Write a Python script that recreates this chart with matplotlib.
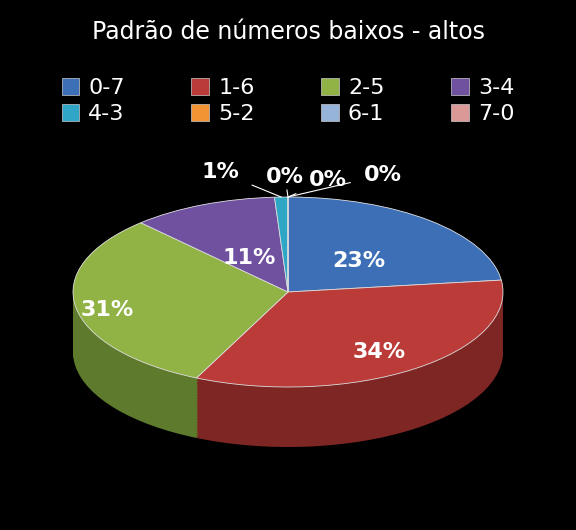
import matplotlib
matplotlib.use("Agg")
import matplotlib.pyplot as plt
from matplotlib.patches import Patch
import numpy as np

categories = ["0-7", "1-6", "2-5", "3-4", "4-3", "5-2", "6-1", "7-0"]
values = [23, 34, 31, 11, 1, 0, 0, 0]
colors = ["#3D6FB6", "#BA3B38", "#91B346", "#6F51A0", "#2FA6C6", "#F39434", "#96B4DA", "#DA9896"]
side_colors = ["#27497A", "#7E2624", "#5E7A2C", "#49346B", "#1E7088", "#A8631F", "#64799A", "#946664"]
title = "Padrão de números baixos - altos"

W, H = 576, 530
rx, ry = 215, 95
cx, cy = 288, 292
depth = 60

fig = plt.figure(figsize=(5.76, 5.30), dpi=100, facecolor="black")
ax = fig.add_axes([0, 0, 1, 1])
ax.set_facecolor("black")

def c(px, py):
    return (px / rx, (H - py) / ry)

N = 40
for i in range(N + 1):
    off = depth * (1 - i / N)
    ax.pie(values, colors=side_colors, startangle=90, counterclock=False,
           center=c(cx, cy + off), radius=1, normalize=True,
           wedgeprops=dict(linewidth=0), frame=True)
wedges, texts = ax.pie(values, colors=colors, startangle=90, counterclock=False,
                       center=c(cx, cy), radius=1, normalize=True,
                       wedgeprops=dict(linewidth=0.6, edgecolor="#dddddd"), frame=True)
ax.set_aspect("auto")
ax.set_xlim(0, W / rx)
ax.set_ylim(0, H / ry)
ax.axis("off")

total = sum(values)
cum = 0
small_pos = [(220, 172), (285, 177), (328, 180), (383, 175)]
big_dist = [0.5, 0.72, 0.85, 0.45]
k = 0
b = 0
for v in values:
    mid = 90 - 360 * (cum + v / 2) / total
    cum += v
    a = np.deg2rad(mid)
    if v >= 5:
        d = big_dist[b]; b += 1
        px = cx + d * rx * np.cos(a)
        py = cy - d * ry * np.sin(a) + 5
        ax.text(*c(px, py), f"{v}%", color="white", fontsize=16, fontweight="bold",
                ha="center", va="center")
    else:
        ex = cx + rx * np.cos(a)
        ey = cy - ry * np.sin(a)
        tx, ty = small_pos[k]
        k += 1
        ax.annotate(f"{v}%", xy=c(ex, ey), xytext=c(tx, ty), color="white",
                    fontsize=16, fontweight="bold", ha="center", va="center",
                    arrowprops=dict(arrowstyle="-", color="white", lw=0.8,
                                    shrinkA=8, shrinkB=0))

fig.text(0.5, 1 - 32 / H, title, color="white", fontsize=17, ha="center", va="center")
handles = [Patch(facecolor=col, edgecolor="#cccccc", linewidth=0.5) for col in colors]
order = [0, 4, 1, 5, 2, 6, 3, 7]
fig.legend([handles[i] for i in order], [categories[i] for i in order],
           loc="upper center", bbox_to_anchor=(0.5, 1 - 58 / H),
           ncol=4, frameon=False, labelcolor="white", fontsize=16,
           handlelength=0.8, handleheight=0.8, columnspacing=3.0, handletextpad=0.4,
           labelspacing=0.25)
fig.savefig("out.png", dpi=100, facecolor="black")
